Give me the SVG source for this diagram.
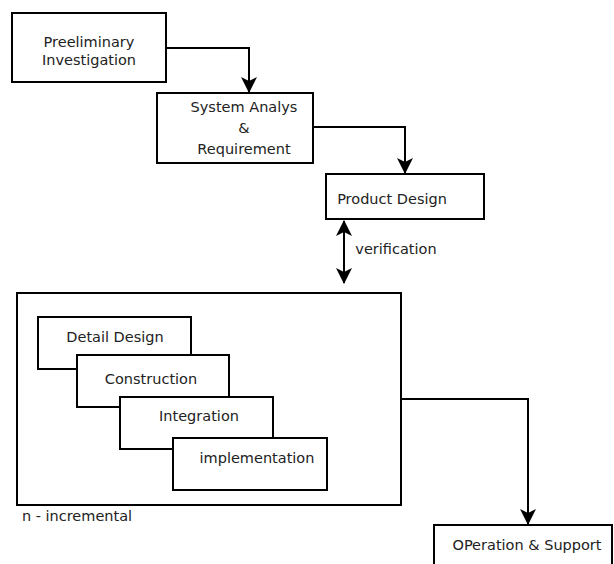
<svg xmlns="http://www.w3.org/2000/svg" width="614" height="564" viewBox="0 0 614 564">
<defs>
<style>
.b{fill:#fff;stroke:#000;stroke-width:2}
.t{font-family:"DejaVu Sans",Verdana,sans-serif;font-size:14.5px;fill:#222;text-anchor:middle}
.l{fill:none;stroke:#000;stroke-width:2}
</style>
<marker id="ah" viewBox="0 0 16 16" refX="15" refY="8" markerWidth="16" markerHeight="16" markerUnits="userSpaceOnUse" orient="auto-start-reverse">
<path d="M0,0 L16,8 L0,16 L4,8 Z" fill="#000"/>
</marker>
</defs>
<rect width="614" height="564" fill="#fff"/>
<g id="connectors">
<path class="l" d="M166,48 H249 V92" marker-end="url(#ah)"/>
<path class="l" d="M313,127 H405 V173" marker-end="url(#ah)"/>
<path class="l" d="M344,221 V283" marker-start="url(#ah)" marker-end="url(#ah)"/>
<path class="l" d="M401,399 H528 V524" marker-end="url(#ah)"/>
</g>
<g id="preliminary">
<rect class="b" x="12" y="13" width="154" height="69"/>
<text class="t" x="89" y="47">Preeliminary</text>
<text class="t" x="89" y="65">Investigation</text>
</g>
<g id="system-analysis">
<rect class="b" x="157" y="93" width="156" height="70"/>
<text class="t" x="244" y="112">System Analys</text>
<text class="t" x="244" y="133">&amp;</text>
<text class="t" x="244" y="154">Requirement</text>
</g>
<g id="product-design">
<rect class="b" x="326" y="174" width="158" height="45"/>
<text class="t" x="392" y="204">Product Design</text>
</g>
<g id="verification-label">
<text class="t" x="396" y="254">verification</text>
</g>
<g id="incremental">
<rect class="b" x="17" y="293" width="384" height="212"/>
<text class="t" x="77" y="521">n - incremental</text>
</g>
<g id="detail-design">
<rect class="b" x="38" y="317" width="153" height="52"/>
<text class="t" x="115" y="342">Detail Design</text>
</g>
<g id="construction">
<rect class="b" x="77" y="355" width="152" height="52"/>
<text class="t" x="151" y="384">Construction</text>
</g>
<g id="integration">
<rect class="b" x="120" y="397" width="153" height="52"/>
<text class="t" x="199" y="421">Integration</text>
</g>
<g id="implementation">
<rect class="b" x="173" y="438" width="154" height="52"/>
<text class="t" x="257" y="463">implementation</text>
</g>
<g id="operation">
<rect class="b" x="434" y="525" width="178" height="45"/>
<text class="t" x="527" y="550">OPeration &amp; Support</text>
</g>
</svg>
